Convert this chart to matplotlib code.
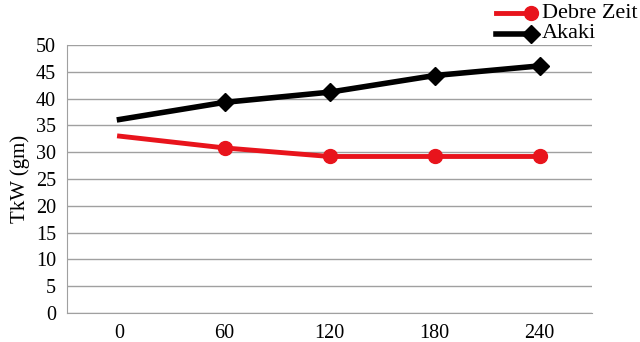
import numpy as np
import matplotlib.pyplot as plt
from matplotlib.lines import Line2D

days = ["0", "60", "120", "180", "240"]
debre_zeit = [33.0, 30.8, 29.2, 29.2, 29.2]
akaki = [36.1, 39.3, 41.2, 44.3, 46.1]

plt.rcParams['font.family'] = ['Liberation Serif', 'DejaVu Serif']
plt.rcParams['font.size'] = 14.5

W, H = 640, 342
fig = plt.figure(figsize=(6.4, 3.42), dpi=100)
ax = fig.add_axes([67/W, 1-313/H, 525/W, 268/H])

red = "#e8141c"
x = np.arange(len(days))
ax.plot(x, debre_zeit, color=red, lw=3.5, marker="o", ms=10,
        markevery=[1, 2, 3, 4], zorder=3)
ax.plot(x, akaki, color="black", lw=4, marker="D", ms=9,
        markevery=[1, 2, 3, 4], zorder=3)

ax.set_xlim(-0.5, 4.5)
ax.set_ylim(0, 50)
ax.set_yticks(range(0, 51, 5))
ax.set_xticks(x)
ax.set_xticklabels(days)
ax.yaxis.grid(True, color="#a0a0a0", lw=1)
ax.set_axisbelow(True)
ax.tick_params(length=0, pad=8)
for s in ["top", "right"]:
    ax.spines[s].set_visible(False)
for s in ["left", "bottom"]:
    ax.spines[s].set_color("#a0a0a0")
ax.set_ylabel("TkW (gm)", fontsize=15, labelpad=4)

# legend: line with marker at its right end
legend_items = [("Debre Zeit", red, "o", 10, 3.5, 13),
                ("Akaki", "black", "D", 9, 4, 34)]
for label, c, m, ms, lw, yp in legend_items:
    fy = 1 - yp / H
    fig.add_artist(Line2D([496/W, 531/W], [fy, fy], color=c, lw=lw,
                          transform=fig.transFigure))
    fig.add_artist(Line2D([531/W], [fy], color=c, marker=m, ms=ms,
                          transform=fig.transFigure))
    fig.text(542/W, fy, label, fontsize=16, va="center", ha="left")

fig.savefig("out.png", dpi=100)
